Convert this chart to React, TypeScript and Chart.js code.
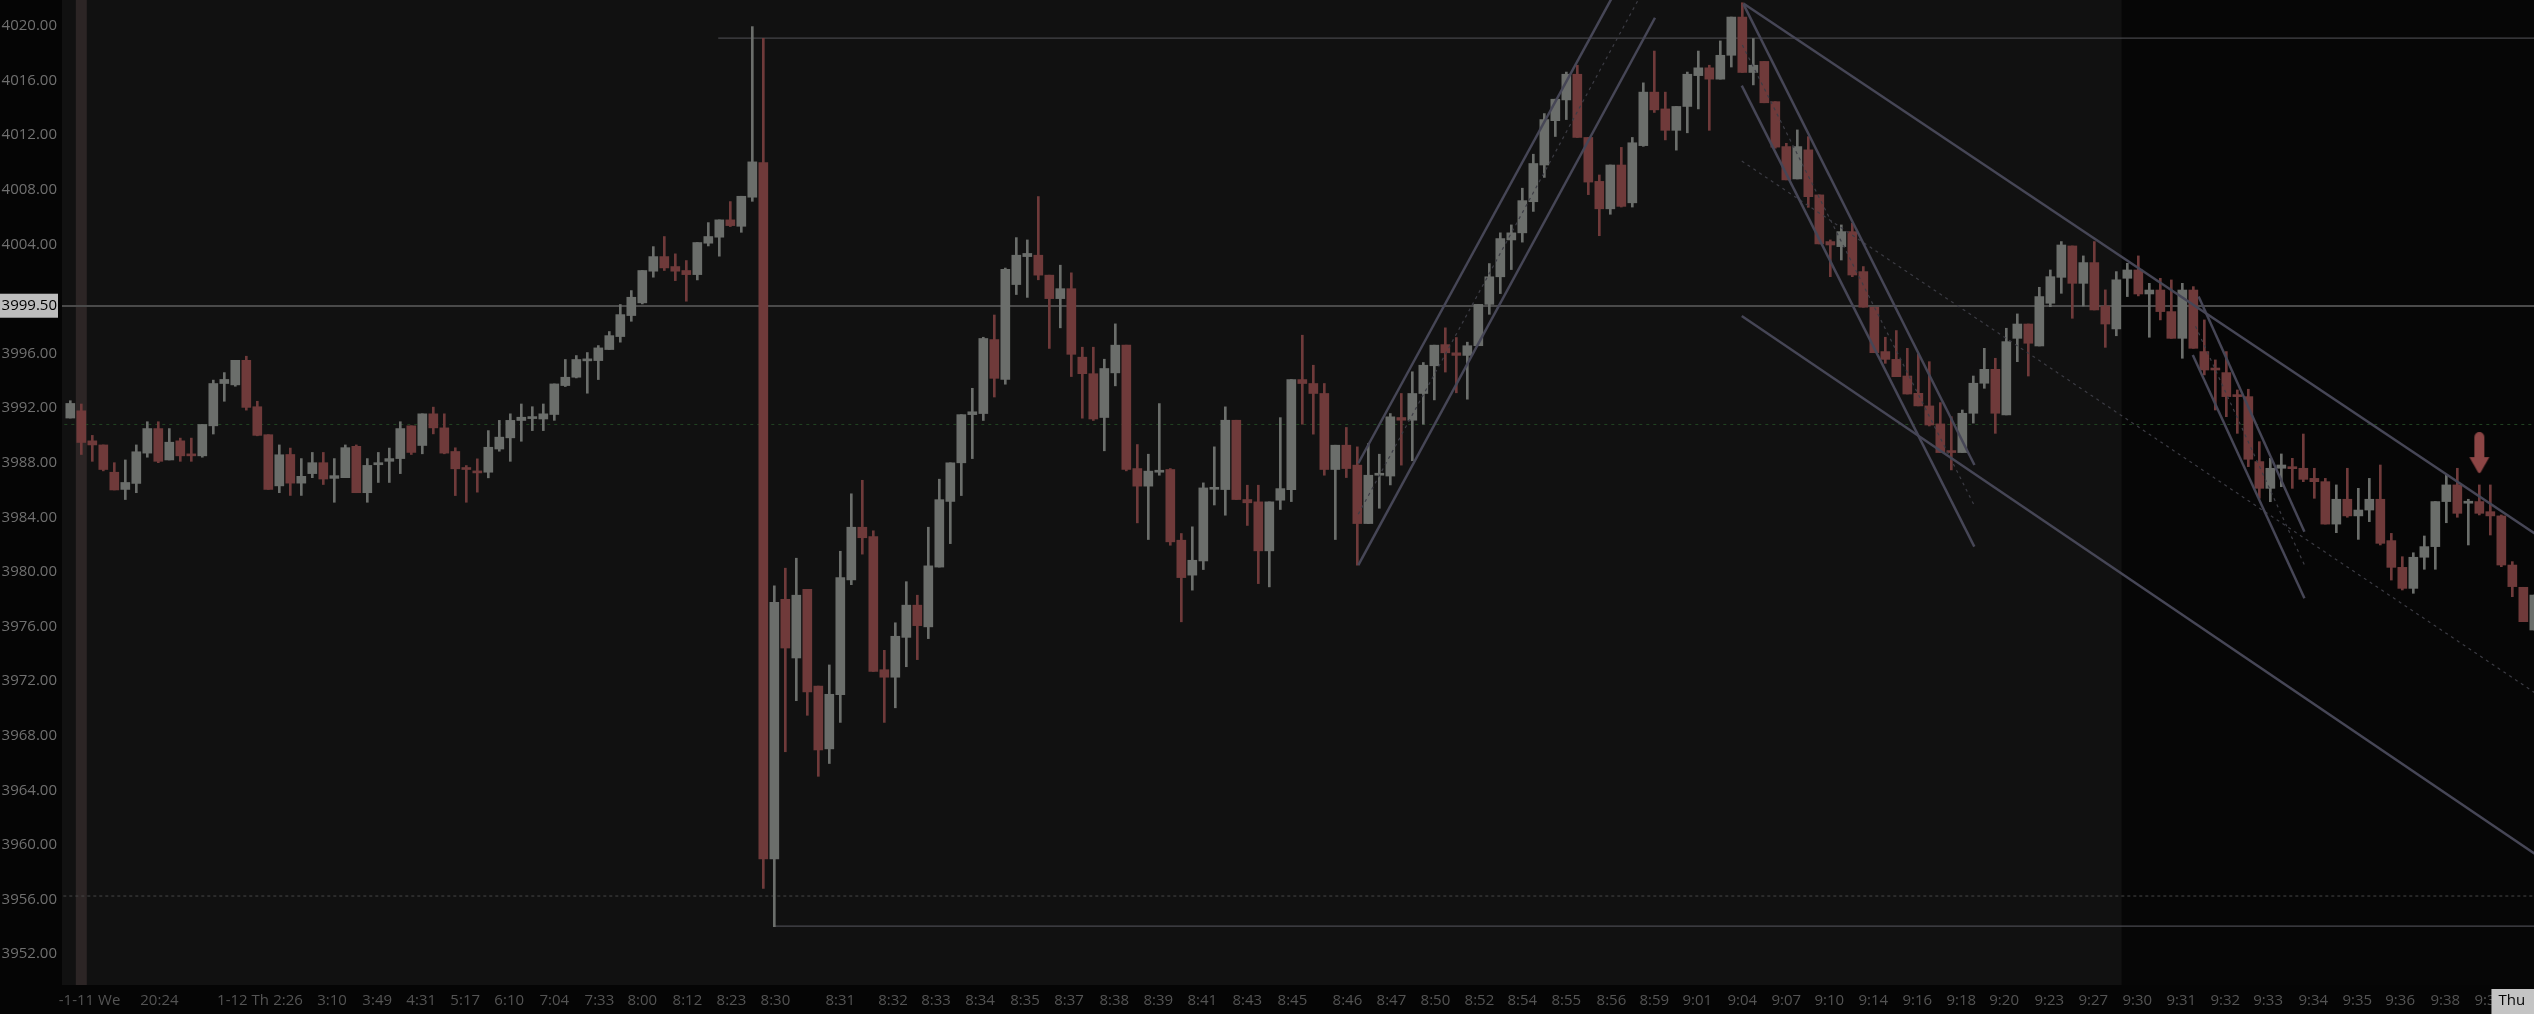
import React, { useEffect, useRef } from 'react';
import { Chart, registerables } from 'chart.js';

Chart.register(...registerables);

// ---------------- DATA ----------------
const opens = [
  3991.27, 3991.8, 3989.6, 3989.3, 3987.3, 3986.04, 3986.48, 3988.7, 3990.5, 3988.2,
  3989.6, 3988.6, 3988.5, 3990.7, 3993.8, 3993.7, 3995.5, 3992.1, 3990.05, 3986.3,
  3988.6, 3986.5, 3987.2, 3988.0, 3986.85, 3986.9, 3989.2, 3985.8, 3987.85, 3988.1,
  3988.3, 3990.7, 3989.26, 3991.58, 3990.55, 3988.82, 3987.6, 3987.35, 3987.3, 3989.0,
  3989.82, 3991.09, 3991.23, 3991.2, 3991.53, 3993.65, 3994.26, 3995.46, 3995.48, 3996.29,
  3997.24, 3998.78, 3999.71, 4002.03, 4003.1, 4002.37, 4002.08, 4001.78, 4004.08, 4004.52,
  4005.79, 4005.32, 4007.45, 4009.99, 3958.96, 3977.99, 3973.69, 3978.72, 3971.63, 3967.03,
  3971.0, 3979.41, 3983.27, 3982.58, 3972.83, 3972.28, 3975.2, 3977.56, 3975.97, 3980.35,
  3985.16, 3987.99, 3991.52, 3991.6, 3997.02, 3994.1, 4001.05, 4003.1, 4003.2, 4001.74,
  4000.02, 4000.75, 3995.73, 3994.52, 3991.31, 3994.58, 3996.61, 3987.57, 3986.28, 3987.3,
  3987.5, 3982.32, 3979.76, 3980.8, 3986.05, 3986.03, 3991.11, 3985.3, 3985.13, 3981.54,
  3985.25, 3986.03, 3994.09, 3993.8, 3993.07, 3987.5, 3989.28, 3987.82, 3983.54, 3987.08,
  3987.02, 3991.31, 3991.11, 3993.07, 3995.1, 3996.65, 3996.05, 3995.86, 3996.57, 3999.6,
  4001.62, 4004.32, 4004.84, 4007.12, 4009.81, 4013.06, 4014.58, 4016.46, 4011.83, 4008.61,
  4006.6, 4009.81, 4007.04, 4011.23, 4015.15, 4013.92, 4012.35, 4014.1, 4016.36, 4016.93,
  4016.1, 4017.85, 4020.65, 4016.59, 4017.4, 4014.45, 4011.16, 4008.79, 4010.92, 4007.62,
  4004.2, 4003.83, 4004.93, 4002.0, 3999.39, 3996.14, 3995.57, 3994.35, 3993.08, 3992.16,
  3990.84, 3988.88, 3988.74, 3991.62, 3993.82, 3994.84, 3991.5, 3997.11, 3998.16, 3996.55,
  3999.68, 4001.58, 4003.88, 4001.14, 4002.66, 3999.48, 3997.8, 4001.51, 4002.12, 4000.36,
  4000.65, 3999.07, 3997.11, 4000.65, 3996.14, 3994.92, 3994.6, 3992.96, 3992.84, 3988.08,
  3986.12, 3987.59, 3987.66, 3987.59, 3986.85, 3986.61, 3983.5, 3985.32, 3984.1, 3984.53,
  3985.32, 3982.29, 3980.33, 3978.79, 3981.07, 3981.85, 3985.15, 3986.37, 3985.03, 3985.15,
  3984.41, 3984.1, 3980.5, 3978.87, 3975.74,
];

const highs = [
  3992.54, 3992.3, 3990.0, 3989.3, 3988.0, 3988.2, 3989.3, 3991.0, 3991.0, 3990.5,
  3989.8, 3989.8, 3990.8, 3994.05, 3994.6, 3995.5, 3995.8, 3992.5, 3990.05, 3989.3,
  3989.07, 3988.3, 3988.75, 3988.75, 3988.3, 3989.3, 3989.3, 3988.3, 3988.75, 3989.07,
  3991.0, 3990.7, 3991.58, 3992.07, 3991.58, 3989.09, 3987.79, 3988.28, 3990.35, 3991.1,
  3991.58, 3992.3, 3992.1, 3992.3, 3993.77, 3995.56, 3995.85, 3996.07, 3996.58, 3997.61,
  3999.59, 4000.61, 4002.08, 4003.83, 4004.57, 4003.3, 4002.81, 4004.13, 4005.59, 4005.79,
  4007.13, 4007.52, 4019.95, 4019.1, 3978.98, 3980.27, 3981.0, 3978.72, 3971.63, 3973.18,
  3981.51, 3985.72, 3986.71, 3983.01, 3974.25, 3976.27, 3979.28, 3978.29, 3983.27, 3986.79,
  3987.99, 3991.52, 3993.45, 3997.19, 3998.82, 4002.26, 4004.49, 4004.32, 4007.5, 4001.74,
  4002.47, 4001.91, 3996.46, 3996.46, 3995.58, 3998.17, 3996.61, 3989.33, 3988.62, 3992.33,
  3987.57, 3982.81, 3983.3, 3986.52, 3989.16, 3992.09, 3991.11, 3986.35, 3986.35, 3985.13,
  3991.3, 3994.09, 3997.34, 3995.14, 3993.8, 3989.28, 3990.58, 3989.16, 3989.4, 3988.62,
  3991.6, 3993.07, 3994.66, 3995.34, 3996.61, 3997.88, 3997.17, 3996.83, 3999.6, 4002.59,
  4004.84, 4005.42, 4008.11, 4010.6, 4013.58, 4014.63, 4016.62, 4017.12, 4011.83, 4009.08,
  4009.81, 4011.1, 4011.83, 4015.83, 4018.16, 4015.15, 4014.1, 4016.62, 4018.16, 4017.12,
  4018.9, 4020.65, 4021.7, 4019.08, 4017.4, 4014.45, 4011.4, 4012.38, 4011.89, 4007.62,
  4004.32, 4005.42, 4005.54, 4002.37, 3999.39, 3997.19, 3997.68, 3996.38, 3995.97, 3995.4,
  3992.4, 3991.37, 3991.86, 3994.35, 3996.38, 3995.65, 3997.85, 3998.9, 3998.16, 4000.85,
  4002.12, 4004.2, 4003.88, 4003.15, 4004.2, 4000.66, 4002.0, 4002.61, 4003.15, 4001.14,
  4001.51, 4001.39, 4001.14, 4000.9, 3998.46, 3995.53, 3996.14, 3993.33, 3993.38, 3989.54,
  3988.32, 3988.64, 3988.32, 3990.1, 3987.59, 3986.85, 3986.37, 3987.59, 3986.12, 3986.85,
  3987.83, 3982.82, 3981.11, 3981.4, 3982.63, 3985.15, 3987.1, 3987.59, 3985.32, 3986.37,
  3986.37, 3984.17, 3980.75, 3978.87, 3978.3,
];

const lows = [
  3991.27, 3988.6, 3988.1, 3987.4, 3986.0, 3985.3, 3985.8, 3988.4, 3988.0, 3988.2,
  3988.1, 3988.1, 3988.4, 3990.1, 3992.5, 3993.6, 3991.85, 3989.97, 3986.04, 3985.8,
  3985.6, 3985.6, 3986.9, 3986.4, 3985.1, 3986.9, 3985.8, 3985.1, 3986.55, 3986.55,
  3987.2, 3988.6, 3988.65, 3990.11, 3988.65, 3985.59, 3985.1, 3985.84, 3986.89, 3988.84,
  3988.1, 3989.57, 3990.35, 3990.35, 3991.1, 3993.58, 3994.21, 3993.09, 3994.09, 3996.29,
  3996.83, 3998.36, 3999.63, 4001.59, 4002.08, 4001.34, 3999.83, 4001.39, 4003.88, 4003.13,
  4005.3, 4004.88, 4007.15, 3956.8, 3954.0, 3966.82, 3970.56, 3969.49, 3965.02, 3965.96,
  3968.97, 3979.06, 3981.3, 3972.7, 3968.97, 3970.04, 3973.05, 3973.57, 3975.11, 3980.35,
  3982.07, 3985.59, 3988.3, 3991.09, 3992.81, 3993.75, 4000.32, 4000.11, 4001.4, 3996.37,
  3997.88, 3994.31, 3991.26, 3991.09, 3988.87, 3993.63, 3987.4, 3983.59, 3982.37, 3987.08,
  3981.95, 3976.34, 3978.66, 3980.17, 3984.9, 3984.15, 3985.3, 3983.4, 3979.14, 3978.9,
  3984.57, 3985.15, 3990.82, 3990.09, 3987.08, 3982.37, 3986.91, 3980.49, 3983.54, 3984.66,
  3986.37, 3987.82, 3988.14, 3990.82, 3992.6, 3994.64, 3993.12, 3992.65, 3996.57, 3998.87,
  4000.39, 4002.15, 4004.16, 4006.41, 4008.9, 4011.9, 4013.14, 4011.83, 4007.64, 4004.63,
  4006.2, 4006.73, 4006.73, 4011.18, 4013.66, 4011.65, 4010.9, 4012.17, 4013.92, 4012.35,
  4016.1, 4016.99, 4016.59, 4015.68, 4014.37, 4011.04, 4008.72, 4008.79, 4006.71, 4004.03,
  4001.63, 4002.85, 4001.63, 3999.39, 3996.06, 3995.28, 3994.3, 3993.03, 3992.16, 3990.69,
  3988.74, 3987.47, 3988.74, 3990.9, 3993.45, 3990.15, 3991.5, 3995.4, 3994.35, 3996.55,
  3999.43, 4000.41, 3998.58, 3999.48, 3999.19, 3996.45, 3997.3, 4000.17, 4000.22, 3997.19,
  3998.46, 3997.11, 3995.65, 3996.38, 3994.43, 3991.86, 3991.37, 3990.15, 3987.71, 3985.39,
  3985.14, 3986.24, 3986.12, 3986.61, 3985.39, 3983.5, 3982.87, 3984.0, 3982.38, 3983.68,
  3981.97, 3979.4, 3978.67, 3978.43, 3980.19, 3980.19, 3983.6, 3984.0, 3981.97, 3984.17,
  3982.7, 3980.38, 3978.18, 3976.35, 3975.74,
];

const closes = [
  3992.34, 3989.48, 3989.3, 3987.5, 3986.0, 3986.55, 3988.8, 3990.5, 3988.1, 3989.5,
  3988.5, 3988.5, 3990.8, 3993.8, 3994.1, 3995.5, 3992.05, 3990.0, 3986.04, 3988.58,
  3986.5, 3987.0, 3988.0, 3986.8, 3987.05, 3989.1, 3985.8, 3987.8, 3988.0, 3988.3,
  3990.5, 3988.75, 3991.58, 3990.55, 3988.7, 3987.55, 3987.5, 3987.25, 3989.13, 3989.87,
  3991.1, 3991.33, 3991.33, 3991.58, 3993.77, 3994.26, 3995.56, 3995.56, 3996.41, 3997.31,
  3998.85, 4000.12, 4002.08, 4003.1, 4002.27, 4002.03, 4001.78, 4004.13, 4004.57, 4005.79,
  4005.37, 4007.52, 4010.04, 3958.96, 3977.77, 3974.42, 3978.29, 3971.2, 3966.95, 3971.03,
  3979.58, 3983.27, 3982.5, 3972.7, 3972.28, 3975.28, 3977.56, 3976.06, 3980.44, 3985.29,
  3987.99, 3991.52, 3991.73, 3997.1, 3994.18, 4002.17, 4003.2, 4003.33, 4001.74, 4000.02,
  4000.75, 3995.94, 3994.52, 3991.2, 3994.9, 3996.61, 3987.5, 3986.28, 3987.38, 3987.4,
  3982.2, 3979.58, 3980.85, 3986.15, 3986.15, 3991.11, 3985.3, 3985.06, 3981.54, 3985.13,
  3986.1, 3994.09, 3993.8, 3993.07, 3987.5, 3989.28, 3987.57, 3983.54, 3987.08, 3987.2,
  3991.36, 3991.11, 3993.07, 3995.14, 3996.61, 3996.05, 3995.86, 3996.57, 3999.6, 4001.62,
  4004.42, 4004.84, 4007.2, 4009.92, 4013.14, 4014.63, 4016.46, 4011.83, 4008.56, 4006.6,
  4009.81, 4006.78, 4011.44, 4015.15, 4013.85, 4012.35, 4014.1, 4016.46, 4016.93, 4016.1,
  4017.85, 4020.65, 4016.59, 4017.12, 4014.37, 4011.12, 4008.72, 4011.16, 4007.49, 4004.03,
  4003.95, 4004.93, 4001.75, 3999.39, 3996.06, 3995.57, 3994.3, 3993.03, 3992.16, 3990.76,
  3988.74, 3988.74, 3991.62, 3993.82, 3994.84, 3991.62, 3996.87, 3998.16, 3996.75, 4000.17,
  4001.63, 4003.95, 4001.14, 4002.66, 3999.19, 3998.16, 4001.4, 4002.12, 4000.36, 4000.65,
  3999.07, 3997.11, 4000.65, 3996.38, 3994.79, 3994.79, 3992.84, 3992.84, 3988.25, 3986.12,
  3987.59, 3987.83, 3987.56, 3986.78, 3986.61, 3983.5, 3985.32, 3984.1, 3984.53, 3985.32,
  3982.09, 3980.33, 3978.79, 3981.07, 3981.85, 3985.15, 3986.37, 3984.29, 3985.15, 3984.29,
  3984.1, 3980.5, 3978.92, 3976.35, 3978.3,
];

const yTickValues = [
  3952, 3956, 3960, 3964, 3968, 3972, 3976, 3980, 3984, 3988, 3992, 3996,
  3999.5, 4004, 4008, 4012, 4016, 4020,
];
const currentPrice = 3999.5;

const xTickPositions = [
  1.75, 8.1, 15.7, 19.8, 23.8, 27.9, 31.9, 35.9, 39.9, 44.0, 48.1, 52.0, 56.1, 60.1, 64.1,
  70.0, 74.8, 78.7, 82.7, 86.8, 90.8, 94.9, 98.9, 102.9, 107.0, 111.1, 116.1, 120.1, 124.1,
  128.1, 132.0, 136.0, 140.1, 144.0, 147.9, 152.0, 156.0, 159.9, 163.9, 167.9, 171.9, 175.8,
  179.9, 183.9, 187.9, 191.9, 195.9, 199.8, 203.9, 207.9, 211.8, 215.9, 219.9, 221.95,
];
const xTickLabels = [
  '-1-11 We', '20:24', '1-12 Th', '2:26', '3:10', '3:49', '4:31', '5:17', '6:10', '7:04',
  '7:33', '8:00', '8:12', '8:23', '8:30', '8:31', '8:32', '8:33', '8:34', '8:35', '8:37',
  '8:38', '8:39', '8:41', '8:43', '8:45', '8:46', '8:47', '8:50', '8:52', '8:54', '8:55',
  '8:56', '8:59', '9:01', '9:04', '9:07', '9:10', '9:14', '9:16', '9:18', '9:20', '9:23',
  '9:27', '9:30', '9:31', '9:32', '9:33', '9:34', '9:35', '9:36', '9:38', '9:39', 'Thu',
];

// horizontal price levels [startIndex, price]
const topLevel = [58.9, 4019.1];
const bottomLevel = [64, 3954.05];
const greenDashedLevel = 3990.8;
const grayDashedLevel = 3956.25;

// solid trend lines [x1, price1, x2, price2] in bar-index / price units
const trendLines = [
  [117.09, 3987.96, 141.5, 4024.06],
  [117.09, 3980.5, 144.06, 4020.6],
  [152.1, 4021.64, 224.5, 3982.57],
  [152.1, 4021.6, 173.1, 3987.83],
  [151.95, 4015.63, 173.09, 3981.85],
  [151.95, 3998.75, 224.5, 3959.1],
  [193.48, 4000.17, 203.1, 3982.94],
  [192.95, 3995.89, 203.1, 3978.07],
];
// dotted mid lines
const dottedLines = [
  [117.09, 3984.23, 142.8, 4022.3],
  [152.0, 4018.6, 173.1, 3984.84],
  [151.95, 4010.1, 224.5, 3970.9],
  [193.2, 3998.0, 203.1, 3980.5],
];

const signalIndex = 219;
const signalPrice = 3988.7;
const sessionBreakIndex = 1;
const darkSessionStart = 186.5;

// --------------- STYLE ----------------
const UP = '#6b6e6b';
const DOWN = '#6f3a3a';
const TREND = '#464656';
const FONT = "'Open Sans', 'Noto Sans', sans-serif";

function makeArrow(color: string) {
  const c = document.createElement('canvas');
  c.width = 22;
  c.height = 42;
  const g = c.getContext('2d')!;
  g.fillStyle = color;
  g.beginPath();
  g.moveTo(6, 30);
  g.lineTo(6, 5);
  g.arc(11, 5, 5, Math.PI, 0);
  g.lineTo(16, 30);
  g.closePath();
  g.fill();
  g.beginPath();
  g.moveTo(1, 25);
  g.lineTo(21, 25);
  g.lineTo(12.5, 40);
  g.quadraticCurveTo(11, 42, 9.5, 40);
  g.closePath();
  g.fill();
  return c;
}

const bgPlugin = {
  id: 'bgPlugin',
  beforeDraw(chart: any) {
    const { ctx, chartArea: a, scales } = chart;
    const x = scales.x;
    ctx.save();
    ctx.fillStyle = '#050505';
    ctx.fillRect(0, 0, chart.width, chart.height);
    const split = x.getPixelForValue(darkSessionStart);
    ctx.fillStyle = '#111111';
    ctx.fillRect(a.left, a.top, split - a.left, a.bottom - a.top);
    ctx.fillStyle = '#060606';
    ctx.fillRect(split, a.top, a.right - split, a.bottom - a.top);
    const b0 = x.getPixelForValue(sessionBreakIndex - 0.5);
    const b1 = x.getPixelForValue(sessionBreakIndex + 0.5);
    ctx.fillStyle = '#2c2525';
    ctx.fillRect(b0, a.top, b1 - b0, a.bottom - a.top);
    ctx.restore();
  },
};

export default function App() {
  const ref = useRef<HTMLCanvasElement>(null);

  useEffect(() => {
    const canvas = ref.current!;
    const n = opens.length;
    const idx = opens.map((_, i) => i);
    const colors = idx.map((i) => (closes[i] >= opens[i] ? UP : DOWN));
    const farRight = n + 10;
    const lastTick = xTickLabels.length - 1;

    const lineDs = (pts: number[], color: string, width: number, dash: number[], order: number) => ({
      type: 'line',
      data: [
        { x: pts[0], y: pts[1] },
        { x: pts[2], y: pts[3] },
      ],
      borderColor: color,
      borderWidth: width,
      borderDash: dash,
      pointRadius: 0,
      pointHoverRadius: 0,
      tension: 0,
      fill: false,
      order,
    });

    const datasets: any[] = [
      ...trendLines.map((t) => lineDs(t, TREND, 2.5, [], 0)),
      ...dottedLines.map((t) => lineDs(t, '#3c3c44', 1.2, [3, 4], 0)),
      {
        type: 'line',
        data: [{ x: signalIndex, y: signalPrice }],
        showLine: false,
        pointStyle: makeArrow('#8c4545'),
        pointRadius: 10,
        order: 0,
      },
      {
        type: 'bar',
        data: idx.map((i) => ({ x: i, y: [opens[i], closes[i]] })),
        backgroundColor: colors,
        borderWidth: 0,
        barThickness: 9,
        minBarLength: 2,
        grouped: false,
        order: 1,
      },
      {
        type: 'bar',
        data: idx.map((i) => ({ x: i, y: [lows[i], highs[i]] })),
        backgroundColor: colors,
        borderWidth: 0,
        barThickness: 2,
        grouped: false,
        order: 2,
      },
      lineDs([topLevel[0], topLevel[1], farRight, topLevel[1]], '#444448', 1.2, [], 3),
      lineDs([bottomLevel[0], bottomLevel[1], farRight, bottomLevel[1]], '#48484f', 1.2, [], 3),
      lineDs([-5, greenDashedLevel, farRight, greenDashedLevel], '#234423', 1, [3, 4], 3),
      lineDs([-5, grayDashedLevel, farRight, grayDashedLevel], '#474747', 1, [3, 3], 3),
    ];

    const chart = new Chart(canvas, {
      type: 'bar',
      data: { datasets },
      plugins: [bgPlugin],
      options: {
        animation: false,
        responsive: false,
        maintainAspectRatio: false,
        devicePixelRatio: 1,
        layout: { padding: 0, autoPadding: false },
        plugins: { legend: { display: false }, tooltip: { enabled: false } },
        scales: {
          x: {
            type: 'linear',
            position: 'bottom',
            min: -0.755,
            max: 223.97,
            offset: false,
            grid: { display: false, drawTicks: false },
            border: { display: false },
            afterBuildTicks: (s: any) => {
              s.ticks = xTickPositions.map((v) => ({ value: v }));
            },
            afterFit: (s: any) => {
              s.height = 29;
              s.paddingLeft = 0;
              s.paddingRight = 0;
            },
            ticks: {
              autoSkip: false,
              maxRotation: 0,
              minRotation: 0,
              padding: 7,
              font: { family: FONT, size: 15 },
              color: (c: any) => (c.index === lastTick ? '#050505' : '#545454'),
              showLabelBackdrop: (c: any) => c.index === lastTick,
              backdropColor: '#c4c4c4',
              backdropPadding: { top: 3, bottom: 4, left: 7, right: 14 },
              callback: (_v: any, i: number) => xTickLabels[i],
            },
          },
          y: {
            type: 'linear',
            position: 'left',
            min: 3949.73,
            max: 4021.9,
            grid: {
              drawTicks: false,
              color: (c: any) => (c.tick && c.tick.value === currentPrice ? '#4a4a4a' : 'rgba(0,0,0,0)'),
              lineWidth: (c: any) => (c.tick && c.tick.value === currentPrice ? 2 : 0),
            },
            border: { display: false },
            afterBuildTicks: (s: any) => {
              s.ticks = yTickValues.map((v) => ({ value: v }));
            },
            afterFit: (s: any) => {
              s.width = 62;
              s.paddingTop = 0;
              s.paddingBottom = 0;
            },
            ticks: {
              autoSkip: false,
              padding: 5,
              font: { family: FONT, size: 15 },
              color: (c: any) => (c.tick && c.tick.value === currentPrice ? '#000000' : '#707070'),
              showLabelBackdrop: (c: any) => !!(c.tick && c.tick.value === currentPrice),
              backdropColor: '#bdbdbd',
              backdropPadding: { top: 3, bottom: 3, left: 6, right: 1 },
              callback: (v: any) => Number(v).toFixed(2),
            },
          },
        },
      } as any,
    } as any);

    return () => chart.destroy();
  }, []);

  return (
    <div style={{ position: 'fixed', left: 0, top: 0, width: 2534, height: 1014, background: '#050505' }}>
      <canvas ref={ref} width={2534} height={1014} style={{ display: 'block', width: 2534, height: 1014 }} />
    </div>
  );
}
